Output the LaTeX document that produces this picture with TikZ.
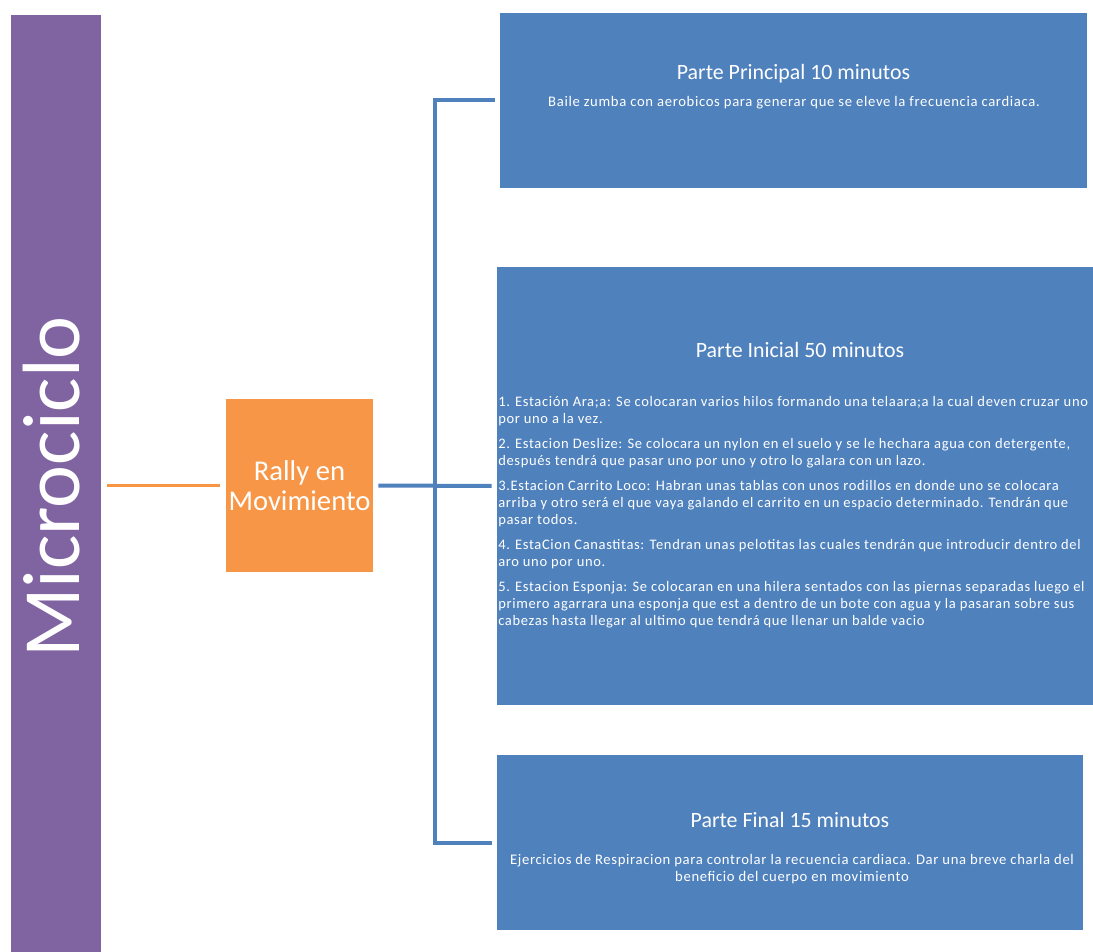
\documentclass[tikz,border=0pt]{standalone}
\usepackage{fontspec}
\setmainfont{Carlito}
\newfontfamily\widefont[LetterSpace=4.5]{Carlito}
\definecolor{microviolet}{HTML}{8064A2}
\definecolor{rallyorange}{HTML}{F79646}
\definecolor{partblue}{HTML}{4F81BD}
\newcommand{\pxu}{0.75pt}

\begin{document}
\begin{tikzpicture}[x=0.75pt, y=-0.75pt,
  bar/.style={fill=microviolet, inner sep=0, minimum width=90*\pxu, minimum height=937*\pxu},
  rallybox/.style={fill=rallyorange, inner sep=0, minimum width=147*\pxu, minimum height=173*\pxu,
    text=white, align=center, font=\fontsize{21.5}{22}\selectfont},
  partbox/.style={fill=partblue, inner sep=0},
  parttitle/.style={text=white, inner sep=0, font=\fontsize{16.4}{19}\selectfont},
  parttext/.style={text=white, inner sep=0, font=\widefont\fontsize{11}{12.75}\selectfont},
  orangeline/.style={draw=rallyorange, line width=2.2pt, shorten <=4.5pt, shorten >=4.5pt},
  blueline/.style={draw=partblue, line width=3pt, shorten <=3.75pt, shorten >=3.75pt}]

\useasboundingbox[fill=white] (0,0) rectangle (1093,952);

% left bar
\node[bar] (micro) at (56,483.5) {};
\node[rotate=90, text=white, inner sep=0, font=\fontsize{61}{61}\selectfont] (microlbl) at (52,487) {Microciclo};

% centre box
\node[rallybox] (rally) at (299.5,485.5) {Rally en\\Movimiento};

% the three parts
\node[partbox, minimum width=587*\pxu, minimum height=175*\pxu] (b1) at (793.5,100.5) {};
\node[partbox, minimum width=596*\pxu, minimum height=438*\pxu] (b2) at (795,486) {};
\node[partbox, minimum width=586*\pxu, minimum height=175*\pxu] (b3) at (790,842.5) {};

\node[parttitle] (t1) at (793.5,74) {Parte Principal 10 minutos};
\node[parttext] (x1) at (794,103) {Baile zumba con aerobicos para generar que se eleve la frecuencia cardiaca.};

\node[parttitle] (t2) at (800,350) {Parte Inicial 50 minutos};
\node[parttext, anchor=north west, align=left, font=\widefont\fontsize{10.9}{12.75}\selectfont] (x2) at (498,396) {%
1. Estación Ara;a: Se colocaran varios hilos formando una telaara;a la cual deven cruzar uno\\
por uno a la vez.\\[6pt]
2. Estacion Deslize: Se colocara un nylon en el suelo y se le hechara agua con detergente,\\
después tendrá que pasar uno por uno y otro lo galara con un lazo.\\[6pt]
3.Estacion Carrito Loco: Habran unas tablas con unos rodillos en donde uno se colocara\\
arriba y otro será el que vaya galando el carrito en un espacio determinado. Tendrán que\\
pasar todos.\\[6pt]
4. EstaCion Canastitas: Tendran unas pelotitas las cuales tendrán que introducir dentro del\\
aro uno por uno.\\[6pt]
5. Estacion Esponja: Se colocaran en una hilera sentados con las piernas separadas luego el\\
primero agarrara una esponja que est a dentro de un bote con agua y la pasaran sobre sus\\
cabezas hasta llegar al ultimo que tendrá que llenar un balde vacio};

\node[parttitle] (t3) at (790,820) {Parte Final 15 minutos};
\node[parttext, align=center] (x3) at (792,869) {Ejercicios de Respiracion para controlar la recuencia cardiaca. Dar una breve charla del\\
beneficio del cuerpo en movimiento};

% connectors
\coordinate (hub) at (435,487);
\draw[orangeline] (micro.east |- rally.west) -- (rally.west);
\draw[blueline] (rally.east) -- (b2.west);
\draw[blueline] (b1.west) -| (hub) |- (b3.west);

\end{tikzpicture}
\end{document}
